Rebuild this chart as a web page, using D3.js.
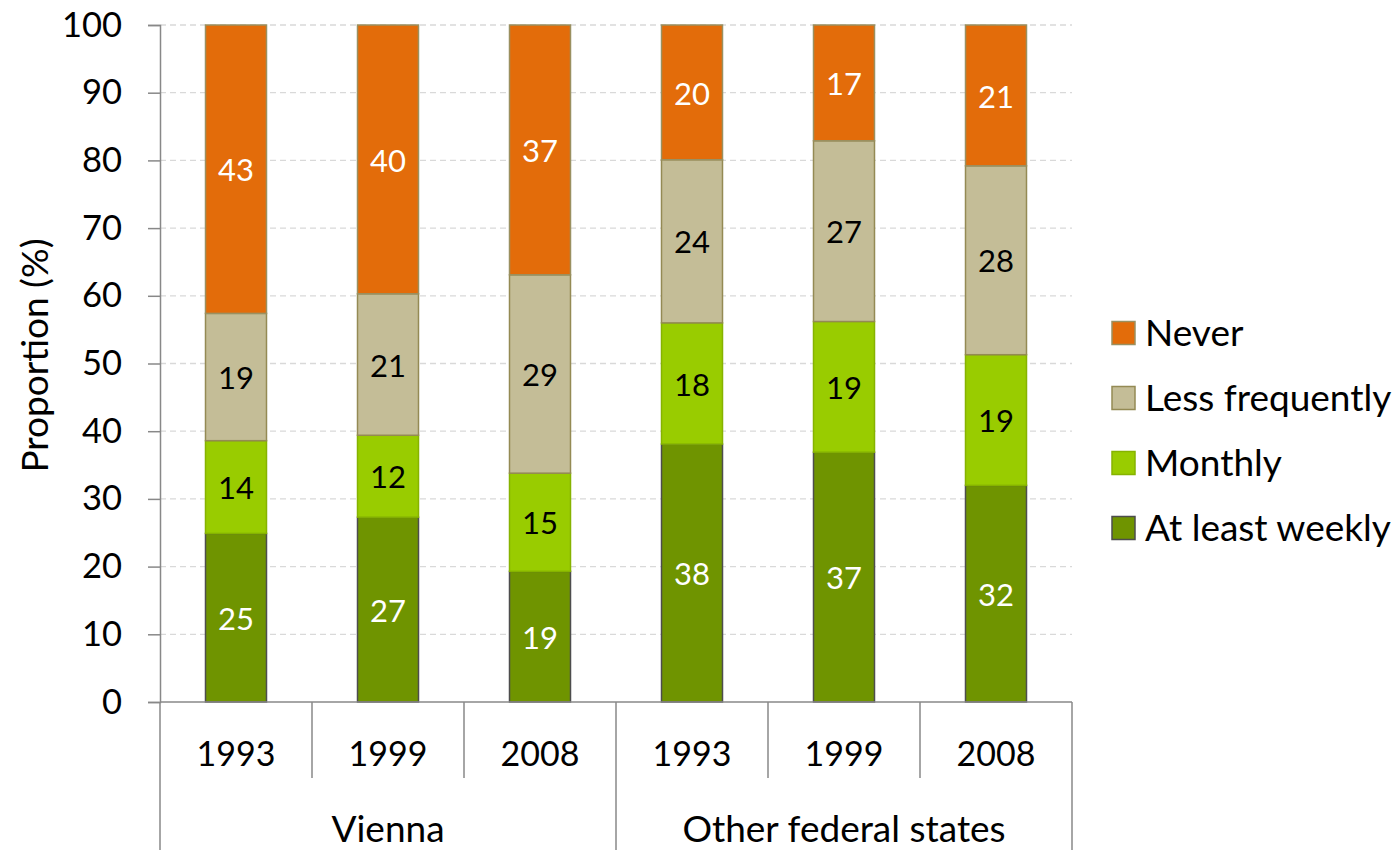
<!DOCTYPE html>
<html><head><meta charset="utf-8">
<script src="https://cdn.jsdelivr.net/npm/d3@7"></script>
<style>body{margin:0;background:#fff}svg{display:block;font-family:Lato,"Open Sans",sans-serif}</style>
</head><body><svg id="c" width="1395" height="850"></svg>
<script>
const groups = ["Vienna", "Other federal states"];
const years = ["1993", "1999", "2008"];
const categories = ["Vienna|1993","Vienna|1999","Vienna|2008","Other|1993","Other|1999","Other|2008"];
const seriesNames = ["At least weekly", "Monthly", "Less frequently", "Never"];
const weekly = [24.9, 27.3, 19.3, 38.1, 36.9, 32.0];
const monthly = [13.7, 12.1, 14.5, 17.9, 19.3, 19.3];
const lessFreq = [18.8, 20.9, 29.3, 24.1, 26.7, 27.9];
const never = [42.6, 39.7, 36.9, 19.9, 17.1, 20.8];
const labelsShown = {
  "At least weekly": [25, 27, 19, 38, 37, 32],
  "Monthly": [14, 12, 15, 18, 19, 19],
  "Less frequently": [19, 21, 29, 24, 27, 28],
  "Never": [43, 40, 37, 20, 17, 21]
};
const yTicks = [0,10,20,30,40,50,60,70,80,90,100];

const fills = {"At least weekly":"#6f9400","Monthly":"#99cc00","Less frequently":"#c4bd97","Never":"#e36c0a"};
const strokes = {"At least weekly":"#4d4d4d","Monthly":"#86b300","Less frequently":"#948a54","Never":"#9a9060"};
const textCol = {"At least weekly":"#fff","Monthly":"#000","Less frequently":"#000","Never":"#fff"};

const svg = d3.select("#c");
const L = 160, R = 1072, T = 25, B = 702;
const xc = d3.scaleBand().domain(categories).range([L, R]);
const y = d3.scaleLinear().domain([0, 100]).range([B, T]);

// gridlines
svg.append("g").selectAll("line").data(yTicks.filter(d=>d>0)).join("line")
  .attr("x1", L).attr("x2", R).attr("y1", d=>y(d)).attr("y2", d=>y(d))
  .attr("stroke", "#d9d9d9").attr("stroke-width", 1.3).attr("stroke-dasharray", "6,4");

// stacked data
const rows = categories.map((c, i) => ({cat: c, i, "At least weekly": weekly[i], "Monthly": monthly[i], "Less frequently": lessFreq[i], "Never": never[i]}));
const stack = d3.stack().keys(seriesNames)(rows);

const bw = 61;
stack.forEach(s => {
  const g = svg.append("g");
  g.selectAll("rect").data(s).join("rect")
    .attr("x", d => xc(d.data.cat) + xc.bandwidth()/2 - bw/2)
    .attr("width", bw)
    .attr("y", d => y(Math.min(d[1], 100)))
    .attr("height", d => y(d[0]) - y(Math.min(d[1], 100)))
    .attr("fill", fills[s.key]).attr("stroke", strokes[s.key]).attr("stroke-width", 1.5);
  g.selectAll("text").data(s).join("text")
    .attr("x", d => xc(d.data.cat) + xc.bandwidth()/2)
    .attr("y", d => (y(d[0]) + y(Math.min(d[1],100)))/2 + 1)
    .attr("dy", "0.36em").attr("text-anchor", "middle")
    .attr("font-size", 31).attr("fill", textCol[s.key])
    .text(d => labelsShown[s.key][d.data.i]);
});

// y axis
const ya = d3.axisLeft(y).tickValues(yTicks).tickSize(12).tickPadding(26);
const yg = svg.append("g").attr("transform", `translate(${L},0)`).call(ya);
yg.select(".domain").attr("stroke", "#888").attr("stroke-width", 1.5);
yg.selectAll(".tick line").attr("stroke", "#888").attr("stroke-width", 1.5);
yg.selectAll(".tick text").attr("font-size", 34.5).attr("fill", "#000").attr("font-family", "Lato");

// x axis baseline
svg.append("line").attr("x1", L).attr("x2", R).attr("y1", B).attr("y2", B).attr("stroke", "#888").attr("stroke-width", 1.5);

// category separators
const seps = d3.range(categories.length + 1);
svg.append("g").selectAll("line").data(seps).join("line")
  .attr("x1", i => L + i * xc.bandwidth()).attr("x2", i => L + i * xc.bandwidth())
  .attr("y1", B).attr("y2", i => (i % 3 === 0) ? 850 : 778)
  .attr("stroke", "#888").attr("stroke-width", 1.5);

// year labels
svg.append("g").selectAll("text").data(categories).join("text")
  .attr("x", c => xc(c) + xc.bandwidth()/2).attr("y", 754).attr("dy", "0.36em")
  .attr("text-anchor", "middle").attr("font-size", 34).text(c => c.split("|")[1]);

// group labels
svg.append("g").selectAll("text").data(groups).join("text")
  .attr("x", (g, i) => L + (i * 3 + 1.5) * xc.bandwidth()).attr("y", 829).attr("dy", "0.36em")
  .attr("text-anchor", "middle").attr("font-size", 37).text(g => g);

// y title
svg.append("text").attr("transform", `translate(35,${(T+B)/2 - 8}) rotate(-90)`)
  .attr("text-anchor", "middle").attr("dy", "0.36em").attr("font-size", 37).text("Proportion (%)");

// legend
const legendOrder = ["Never", "Less frequently", "Monthly", "At least weekly"];
const lg = svg.append("g").selectAll("g").data(legendOrder).join("g")
  .attr("transform", (d, i) => `translate(1112,${333 + i * 65})`);
lg.append("rect").attr("x", 0).attr("y", -11.5).attr("width", 23).attr("height", 23)
  .attr("fill", d => fills[d]).attr("stroke", d => strokes[d]).attr("stroke-width", 1.5);
lg.append("text").attr("x", 33).attr("dy", "0.36em").attr("font-size", 37).text(d => d);
</script></body></html>
